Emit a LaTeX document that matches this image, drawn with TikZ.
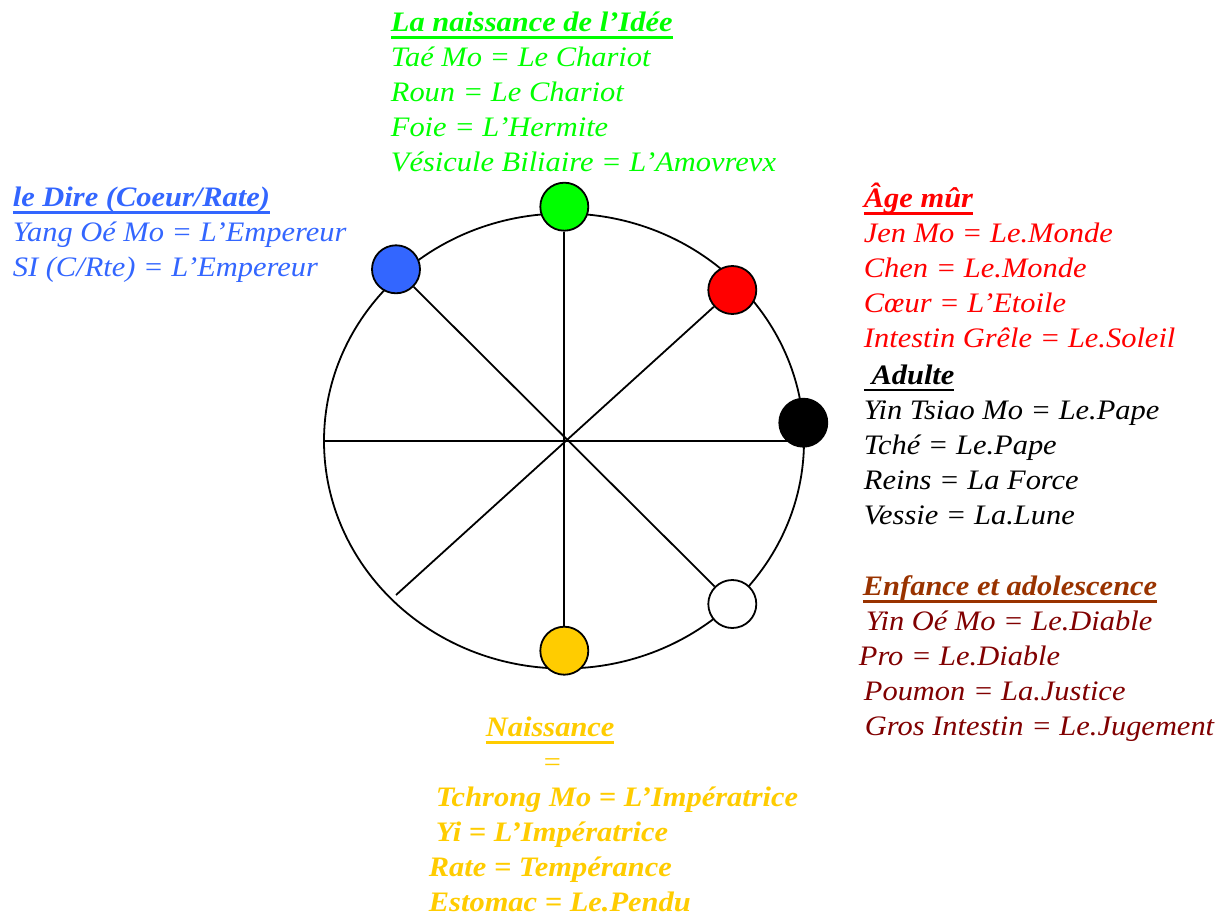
\documentclass[tikz,border=0pt]{standalone}
\usepackage{fontspec}
\setmainfont{Liberation Serif}[FakeStretch=1.08]
\usetikzlibrary{positioning}
\definecolor{vert}{HTML}{00FF00}
\definecolor{bleu}{HTML}{3366FF}
\definecolor{rouge}{HTML}{FF0000}
\definecolor{jaune}{HTML}{FFCC00}
\definecolor{brun}{HTML}{993300}
\definecolor{bordeaux}{HTML}{800000}
\newcommand{\uln}[1]{\setbox0=\hbox{#1}\rlap{\rule[-7.4pt]{\wd0}{2.8pt}}\box0}
\tikzset{
  bead/.style={ % a coloured bead sitting on the wheel
    circle, draw, line width=1.8pt,
    minimum size=48pt, inner sep=0pt
  },
  legend/.style={ % a block of text lines, placed by its last baseline
    anchor=base west, align=left, inner sep=0pt,
    font=\fontsize{28.2}{35}\selectfont\itshape
  }
}
\begin{document}
\begin{tikzpicture}[x=1pt, y=-1pt, line width=1.8pt]
  \useasboundingbox (0,0) rectangle (1230,917);

  \coordinate (O) at (564,441);
  \draw (O) ellipse [x radius=240pt, y radius=227.5pt];
  \coordinate (hleft) at (324,441);
  \coordinate (hright) at (803,441);
  \draw (hleft) -- (hright);

  \node[bead, fill=vert] (idee) at (564.3,206.7) {};
  \node[bead, fill=bleu] (dire) at (396,269.3) {};
  \node[bead, fill=rouge] (mur) at (732.3,290) {};
  \node[bead, fill=black] (adulte) at (803.3,422.7) {};
  \node[bead, fill=white] (enfance) at (732.3,604) {};
  \node[bead, fill=jaune] (naiss) at (564.3,650.7) {};
  \coordinate (murend) at (396,595);
  \draw (idee) -- (naiss);
  \draw (dire) -- (enfance);
  \draw (mur) -- (murend);

  \node[legend, text=vert] (idee_text) at (390,171.7) {\bfseries\uln{La naissance de l’Idée}\\
    Taé Mo = Le Chariot\\ Roun = Le Chariot\\ Foie = L’Hermite\\ Vésicule Biliaire = L’Amovrevx};
  \node[legend, text=bleu] (dire_text) at (12,276.5) {\bfseries\uln{le Dire (Coeur/Rate)}\\
    Yang Oé Mo = L’Empereur\\ SI (C/Rte) = L’Empereur};
  \node[legend, text=rouge] (mur_text) at (863,347.5) {\bfseries\uln{Âge mûr}\\
    Jen Mo = Le.Monde\\ Chen = Le.Monde\\ Cœur = L’Etoile\\ Intestin Grêle = Le.Soleil};
  \node[legend, text=black] (adulte_text) at (863,524) {\bfseries\uln{\ Adulte}\\
    Yin Tsiao Mo = Le.Pape\\ Tché = Le.Pape\\ Reins = La Force\\ Vessie = La.Lune};
  \node[legend, text=bordeaux] (enf_text) at (858,735.5) {\hspace*{4pt}\textcolor{brun}{\bfseries\uln{Enfance et adolescence}}\\
    \hspace*{7pt}Yin Oé Mo = Le.Diable\\ Pro = Le.Diable\\
    \hspace*{5pt}Poumon = La.Justice\\ \hspace*{6pt}Gros Intestin = Le.Jugement};
  \node[legend, text=jaune, font=\fontsize{28.2}{35}\selectfont\bfseries\itshape] (naiss_text) at (428,911.5) {\hspace*{57pt}\uln{Naissance}\\
    \hspace*{113pt}{\mdseries =}\\ \hspace*{7pt}Tchrong Mo = L’Impératrice\\
    \hspace*{7pt}Yi = L’Impératrice\\ Rate = Tempérance\\ Estomac = Le.Pendu};
\end{tikzpicture}
\end{document}
